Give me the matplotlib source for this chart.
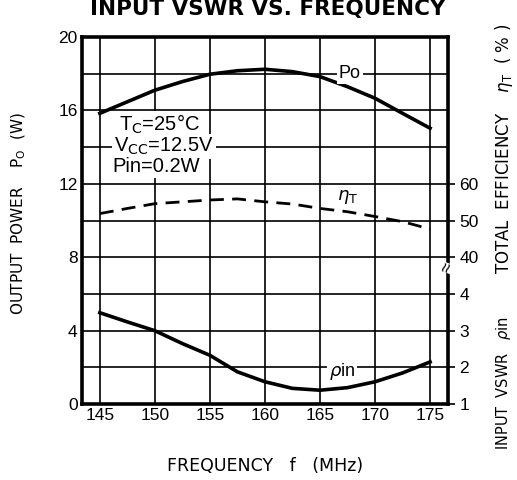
import numpy as np
import matplotlib.pyplot as plt

plt.rcParams['font.family'] = ['Liberation Sans', 'DejaVu Sans']

# values
freq = [145, 147.5, 150, 152.5, 155, 157.5, 160, 162.5, 165, 167.5, 170, 172.5, 175]
po = [15.84, 16.47, 17.1, 17.57, 17.97, 18.16, 18.24, 18.11, 17.84, 17.29, 16.66, 15.84, 15.03]
eff = [51.9, 53.3, 54.6, 55.1, 55.6, 55.9, 55.1, 54.5, 53.3, 52.4, 51.1, 49.7, 47.7]
vswr = [3.49, 3.24, 3.0, 2.65, 2.33, 1.88, 1.61, 1.43, 1.38, 1.45, 1.61, 1.85, 2.15]

x_ticks = [145, 150, 155, 160, 165, 170, 175]
left_ticks = [0, 4, 8, 12, 16, 20]
right_pos = [0, 2, 4, 6, 8, 10, 12]
right_labels = ['1', '2', '3', '4', '40', '50', '60']

# right scales share the left grid: eff 40..60 -> 8..12, vswr 1..4 -> 0..6
eff_y = np.array(eff) / 5.0
vswr_y = (np.array(vswr) - 1.0) * 2.0

fig = plt.figure(figsize=(5.17, 4.8), dpi=100)
ax = fig.add_axes([0.158, 0.158, 0.709, 0.765])

ax.set_xlim(143.35, 176.65)
ax.set_ylim(0, 20)
ax.set_xticks(x_ticks)
ax.set_yticks(left_ticks)
ax.set_yticks(np.arange(0, 21, 2), minor=True)
ax.grid(True, which='both', color='black', lw=1.2)
ax.tick_params(which='both', length=0, labelsize=12.5, pad=3)
for s in ax.spines.values():
    s.set_linewidth(2.6)

ax.plot(freq, po, color='black', lw=2.6)
ax.plot(freq, eff_y, color='black', lw=2.0, ls=(0, (5, 3)))
ax.plot(freq, vswr_y, color='black', lw=2.6)

ax2 = ax.twinx()
ax2.set_ylim(0, 20)
ax2.set_yticks(right_pos)
ax2.set_yticklabels(right_labels)
ax2.tick_params(length=5, width=1.2, labelsize=12.5, pad=3)
for s in ax2.spines.values():
    s.set_visible(False)

bb = dict(facecolor='white', edgecolor='none', pad=1.5)
ax.text(167.7, 18.0, 'Po', fontsize=13, va='center', ha='center', bbox=bb)
ax.text(167.5, 11.3, r'$\eta_{\mathrm{T}}$', fontsize=13, va='center', ha='center')
ax.text(167.0, 1.78, r'$\rho$in', fontsize=13, va='center', ha='center', bbox=bb)
ax.text(146.7, 15.25, r'T$_{\mathrm{C}}$=25°C', fontsize=14.5, va='center', ha='left', bbox=bb)
ax.text(146.3, 14.05, r'V$_{\mathrm{CC}}$=12.5V', fontsize=14.5, va='center', ha='left', bbox=bb)
ax.text(146.1, 12.95, 'Pin=0.2W', fontsize=14.5, va='center', ha='left', bbox=bb)
ax.text(1.0, 0.37, '≈', transform=ax.transAxes, fontsize=13, rotation=70,
        ha='center', va='center', bbox=dict(facecolor='white', edgecolor='none', pad=0))

fig.text(0.517, 0.982, 'INPUT VSWR VS. FREQUENCY', fontsize=15.5, fontweight='bold',
         family='DejaVu Sans', ha='center', va='center')
fig.text(0.037, 0.555, r'OUTPUT  POWER    P$_{\mathrm{O}}$  (W)', rotation=90, fontsize=11,
         family='DejaVu Sans', ha='center', va='center')
fig.text(0.513, 0.03, 'FREQUENCY   f   (MHz)', fontsize=12.5, family='DejaVu Sans',
         ha='center', va='center')
fig.text(0.974, 0.69, r'TOTAL  EFFICIENCY    $\eta_{\mathrm{T}}$  ( % )', rotation=90,
         fontsize=12, family='DejaVu Sans', ha='center', va='center')
fig.text(0.974, 0.202, r'INPUT  VSWR   $\rho$in', rotation=90, fontsize=10.5,
         family='DejaVu Sans', ha='center', va='center')

fig.savefig('out.png', dpi=100)
